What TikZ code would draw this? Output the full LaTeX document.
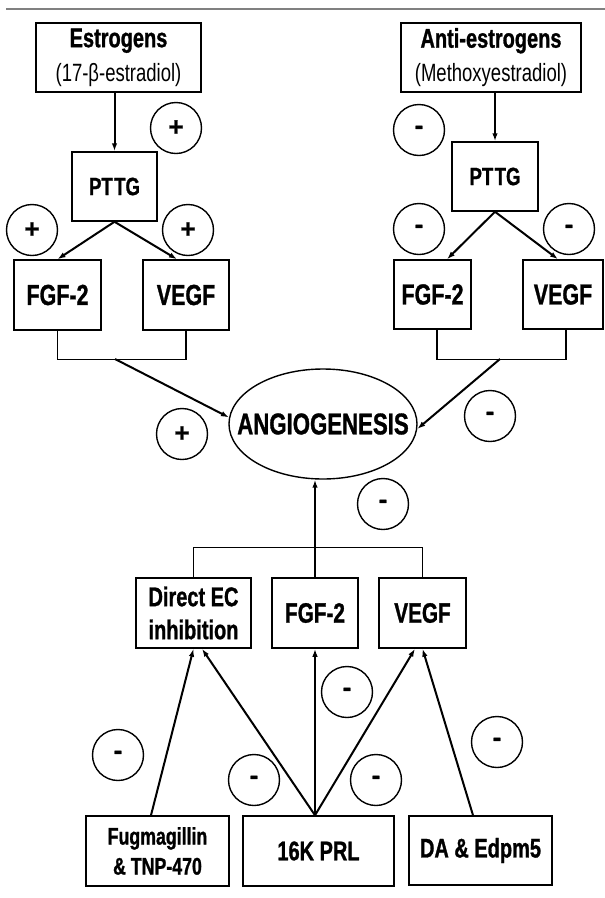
\documentclass[tikz,border=0pt]{standalone}
\usepackage{fontspec}
\setmainfont{Liberation Sans}[FakeStretch=0.74,BoldFeatures={FakeBold=1}]
\newfontfamily\signfont{Liberation Sans}[BoldFeatures={FakeBold=1}]
\usetikzlibrary{arrows.meta,shapes}

\begin{document}
\begin{tikzpicture}[x=1pt,y=-1pt,
  box/.style={draw,line width=1.5pt,inner sep=0pt,align=center,
    font=\bfseries\fontsize{27}{33}\selectfont},
  sign/.style={draw,circle,line width=1.4pt,minimum size=51pt,inner sep=0pt,
    font=\signfont\bfseries\fontsize{26}{26}\selectfont},
  arr/.style={line width=2pt,-{Latex[length=8pt,width=5.5pt]}},
  link/.style={line width=1.4pt}]
\useasboundingbox (0,0) rectangle (605,898);
\draw[gray,line width=2pt] (6,9) -- (605,9);

\node[box,minimum width=165pt,minimum height=69pt] (est) at (118.5,57.5) {Estrogens\\[1pt]\mdseries\fontsize{25}{33}\selectfont(17-β-estradiol)};
\node[box,minimum width=85pt,minimum height=69pt,font=\bfseries\fontsize{25}{30}\selectfont] (ptl) at (114.5,186.5) {PT\kern1.5pt TG};
\node[box,minimum width=87pt,minimum height=70pt,font=\bfseries\fontsize{29}{30}\selectfont] (fgl) at (57.5,295) {FGF-2};
\node[box,minimum width=86pt,minimum height=70pt,font=\bfseries\fontsize{29}{30}\selectfont] (vgl) at (186,295) {VEGF};

\node[box,minimum width=180pt,minimum height=69pt] (anti) at (491,57.5) {Anti-estrogens\\[1pt]\mdseries\fontsize{25}{33}\selectfont(Methoxyestradiol)};
\node[box,minimum width=86pt,minimum height=69pt,font=\bfseries\fontsize{25}{30}\selectfont] (ptr) at (495,176.5) {PT\kern1.5pt TG};
\node[box,minimum width=77pt,minimum height=69pt,font=\bfseries\fontsize{29}{30}\selectfont] (fgr) at (432.5,294.5) {FGF-2};
\node[box,minimum width=80pt,minimum height=69pt,font=\bfseries\fontsize{29}{30}\selectfont] (vgr) at (563,294.5) {VEGF};

\node[draw,ellipse,line width=1.4pt,minimum width=188pt,minimum height=110pt,inner sep=0pt,
  font=\bfseries\fontsize{30}{32}\selectfont] (angio) at (323,424) {\makebox[0pt]{ANGIOGENESIS}};

\node[box,minimum width=115pt,minimum height=70pt] (dec) at (193.5,613) {Direct EC\\inhibition};
\node[box,minimum width=86pt,minimum height=70pt,font=\bfseries\fontsize{28}{30}\selectfont] (fgb) at (315,613) {FGF-2};
\node[box,minimum width=87pt,minimum height=70pt,font=\bfseries\fontsize{28}{30}\selectfont] (vgb) at (422.5,613) {VEGF};

\node[box,minimum width=143pt,minimum height=70pt,font=\bfseries\fontsize{24}{30}\selectfont] (fug) at (157.5,851) {Fugmagillin\\\& TNP-470};
\node[box,minimum width=151pt,minimum height=70pt,font=\bfseries\fontsize{27}{30}\selectfont] (prl) at (318.5,851) {16K PRL};
\node[box,minimum width=143pt,minimum height=69pt] (da) at (480.5,850.5) {DA \& Edpm5};

\node[sign] (pest) at (176,128) {+};
\node[sign] (pfgl) at (32,230) {+};
\node[sign] (pvgl) at (188,230) {+};
\node[sign] (pang) at (182,434) {+};
\node[sign] (manti) at (419,130) {-};
\node[sign] (mfgr) at (419,229) {-};
\node[sign] (mvgr) at (569,229) {-};
\node[sign] (mang) at (490,416) {-};
\node[sign] (mbot) at (383,504) {-};
\node[sign] (mfgb) at (347,692) {-};
\node[sign] (mdec) at (254,780) {-};
\node[sign] (mvgb) at (376,780) {-};
\node[sign] (mfug) at (118,755) {-};
\node[sign] (mda) at (497,742) {-};

\coordinate (jl) at (115,359);
\coordinate (jr) at (500,359);

\draw[arr] (est.south -| ptl) -- (ptl);
\draw[arr] (ptl.south) -- (fgl.north);
\draw[arr] (ptl.south) -- ([xshift=-9pt]vgl.north);
\draw[link] (fgl.south) -- ++(0,29) -| (vgl.south);
\draw[arr] (jl) -- (angio.176);

\draw[arr] (anti.south -| ptr) -- (ptr);
\draw[arr] (ptr.south) -- ([xshift=14.5pt]fgr.north);
\draw[arr] (ptr.south) -- ([xshift=-5pt]vgr.north);
\draw[link] ([xshift=4.5pt]fgr.south) -- ++(0,30) -| ([xshift=3pt]vgr.south);
\draw[arr] (jr) -- (angio.-3);

\draw[link] (dec.north) -- ++(0,-30) -| (vgb.north);
\draw[arr] (fgb.north) -- (fgb.north |- angio.south);
\draw[arr] (prl.north -| fgb) -- (fgb);
\draw[arr] (prl.north -| fgb) -- ([xshift=8.5pt]dec.south);
\draw[arr] (prl.north -| fgb) -- ([xshift=-7.5pt]vgb.south);
\draw[arr] ([xshift=-6.5pt]fug.north) -- (dec.south);
\draw[arr] ([xshift=-7.5pt]da.north) -- (vgb.south);
\end{tikzpicture}
\end{document}
